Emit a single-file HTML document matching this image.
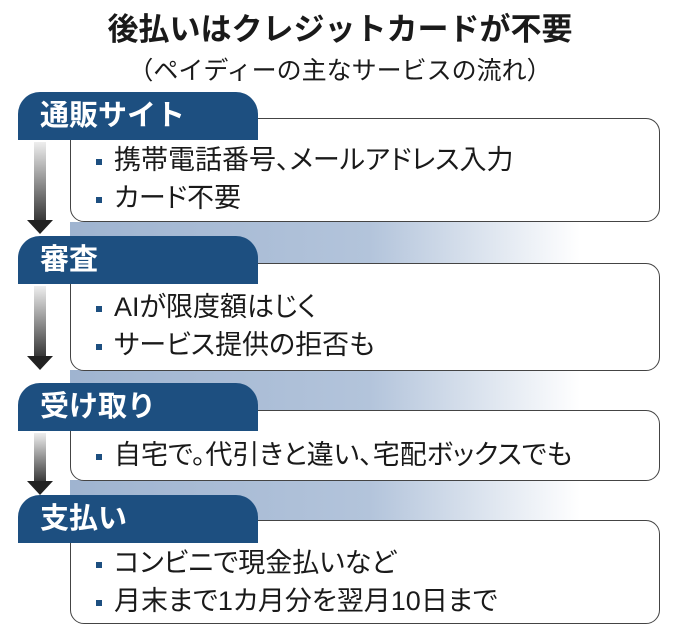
<!DOCTYPE html>
<html><head><meta charset="utf-8"><style>
body{margin:0;width:680px;height:637px;background:#fff;position:relative;overflow:hidden;font-family:"Liberation Sans","Noto Sans CJK JP",sans-serif;color:#1a1a1a}
.t{position:absolute;left:0;width:680px;text-align:center;white-space:nowrap}
.band{position:absolute;left:70px;width:600px;background:linear-gradient(90deg,#9fb4d0 0%,#b3c4db 50%,#fff 85%)}
.box{position:absolute;left:70px;width:590px;background:#fff;border:1.5px solid #444;border-radius:0 14px 14px 14px;box-sizing:border-box}
.tab{position:absolute;left:18px;width:240px;height:48px;background:#1d4f80;border-radius:22px 22px 0 0;color:#fff;font-weight:bold;font-size:29px;line-height:48px;padding-left:22px;box-sizing:border-box}
.it{position:absolute;left:96px;font-size:27px;line-height:30px;white-space:nowrap;font-feature-settings:"palt"}
.it:before{content:"";display:inline-block;width:6px;height:6px;background:#1d4f80;margin-right:12px;vertical-align:middle}
.ar{position:absolute;left:34px;width:12px;background:linear-gradient(#eee,#333)}
.ah{position:absolute;left:27px;width:0;height:0;border-left:13px solid transparent;border-right:13px solid transparent;border-top:14px solid #222}
</style></head><body>
<div class="t" style="top:4px;font-size:31px;font-weight:bold">後払いはクレジットカードが不要</div>
<div class="t" style="top:51px;font-size:25px">（ペイディーの主なサービスの流れ）</div>

<div class="band" style="top:222px;height:42px"></div>
<div class="band" style="top:370px;height:42px"></div>
<div class="band" style="top:480px;height:42px"></div>

<div class="box" style="top:118px;height:104px"></div>
<div class="tab" style="top:92px">通販サイト</div>
<div class="it" style="top:145px">携帯電話番号、メールアドレス入力</div>
<div class="it" style="top:183px">カード不要</div>

<div class="box" style="top:263px;height:108px"></div>
<div class="tab" style="top:236px">審査</div>
<div class="it" style="top:292px">AIが限度額はじく</div>
<div class="it" style="top:330px">サービス提供の拒否も</div>

<div class="box" style="top:410px;height:71px"></div>
<div class="tab" style="top:383px">受け取り</div>
<div class="it" style="top:440px">自宅で。代引きと違い、宅配ボックスでも</div>

<div class="box" style="top:520px;height:104px"></div>
<div class="tab" style="top:495px">支払い</div>
<div class="it" style="top:548px">コンビニで現金払いなど</div>
<div class="it" style="top:586px">月末まで1カ月分を翌月10日まで</div>

<div class="ar" style="top:142px;height:80px"></div><div class="ah" style="top:220px"></div>
<div class="ar" style="top:286px;height:72px"></div><div class="ah" style="top:356px"></div>
<div class="ar" style="top:433px;height:50px"></div><div class="ah" style="top:481px"></div>
</body></html>
